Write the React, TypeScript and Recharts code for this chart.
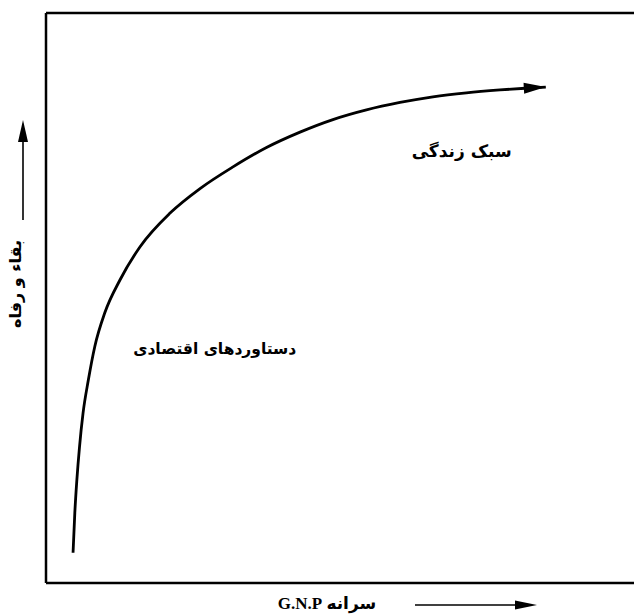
import { Line, LineChart, ReferenceDot, ReferenceLine, XAxis, YAxis } from 'recharts'

// curve (arbitrary 0-100 units on both axes)
const gnpPerCapita = [4.6, 4.9, 5.25, 5.7, 6.3, 7.2, 8.3, 10.0, 12.6, 16.0, 21.1, 26.2, 31.8, 37.5, 43.2, 48.8, 54.5, 60.2, 65.8, 71.5, 77.2, 81.5, 85.0]
const welfare = [5.3, 12.3, 18.1, 23.9, 29.8, 35.6, 41.5, 47.4, 53.2, 59.0, 64.9, 69.2, 73.0, 76.4, 79.1, 81.3, 83.0, 84.3, 85.3, 86.0, 86.5, 86.8, 87.0]

const regionLabels = ['سبک زندگی', 'دستاوردهای اقتصادی']
const regionLabelX = [70.7, 28.7]
const regionLabelY = [75.8, 41.2]
const regionLabelSize = [17, 15.5]

const xTitle = 'سرانه G.N.P'
const yTitle = 'بقاء و رفاه'

const data = gnpPerCapita.map((g, i) => ({ gnp: g, welfare: welfare[i] }))

const INK = '#000'
const ARABIC = "'DejaVu Sans', sans-serif"

const arrowHead = (tx: number, ty: number, angle: number, len: number, half: number) => {
  const bx = tx - len * Math.cos(angle)
  const by = ty - len * Math.sin(angle)
  const px = -Math.sin(angle) * half
  const py = Math.cos(angle) * half
  return `${tx},${ty} ${bx + px},${by + py} ${bx - px},${by - py}`
}

const CurveTip = (props: any) => {
  const { cx, cy, index, points } = props
  if (index !== data.length - 1) return <g key={`d${index}`} />
  let angle = -0.06
  if (points && points[index - 1]) {
    const prev = points[index - 1]
    angle = Math.atan2(cy - prev.y, cx - prev.x)
  }
  return <polygon key="tip" points={arrowHead(cx, cy, angle, 22, 5.5)} fill={INK} />
}

const YTitle = (props: any) => {
  const { x, y } = props.viewBox
  const ax = x + 23
  return (
    <g>
      <text
        x={x + 15}
        y={y + 271}
        transform={`rotate(-90 ${x + 15} ${y + 271})`}
        textAnchor="middle"
        dominantBaseline="central"
        fontFamily={ARABIC}
        fontWeight="bold"
        fontSize={16}
        fill={INK}
      >
        {yTitle}
      </text>
      <line x1={ax} y1={y + 207} x2={ax} y2={y + 125} stroke={INK} strokeWidth={1.6} />
      <polygon points={arrowHead(ax, y + 107, -Math.PI / 2, 22, 5)} fill={INK} />
    </g>
  )
}

const XTitle = (props: any) => {
  const { x, y } = props.viewBox
  const ay = y + 22
  return (
    <g>
      <text
        x={x + 281}
        y={y + 20}
        textAnchor="middle"
        dominantBaseline="central"
        direction="rtl"
        fontFamily="'Liberation Serif', 'DejaVu Sans', serif"
        fontWeight="bold"
        fontSize={17}
        fill={INK}
      >
        {xTitle}
      </text>
      <line x1={x + 369} y1={ay} x2={x + 475} y2={ay} stroke={INK} strokeWidth={1.6} />
      <polygon points={arrowHead(x + 491, ay, 0, 22, 4.5)} fill={INK} />
    </g>
  )
}

export default function App() {
  return (
    <div style={{ width: 635, height: 615, background: '#fff' }}>
      <style>{'body{margin:0}'}</style>
      <LineChart width={635} height={615} data={data} margin={{ top: 13, right: 1, bottom: 2, left: 0 }}>
        <XAxis
          type="number"
          dataKey="gnp"
          domain={[0, 100]}
          allowDataOverflow
          height={30}
          tick={false}
          tickLine={false}
          axisLine={{ stroke: INK, strokeWidth: 2.5 }}
          label={<XTitle />}
        />
        <YAxis
          type="number"
          domain={[0, 100]}
          allowDataOverflow
          width={46}
          tick={false}
          tickLine={false}
          axisLine={{ stroke: INK, strokeWidth: 2.5 }}
          label={<YTitle />}
        />
        <ReferenceLine y={100} stroke={INK} strokeWidth={2.5} />
        {regionLabels.map((t, i) => (
          <ReferenceDot
            key={t}
            x={regionLabelX[i]}
            y={regionLabelY[i]}
            r={0}
            stroke="none"
            fill="none"
            label={{ value: t, position: 'center', fill: INK, fontSize: regionLabelSize[i], fontWeight: 'bold', fontFamily: ARABIC }}
          />
        ))}
        <Line
          type="monotone"
          dataKey="welfare"
          stroke={INK}
          strokeWidth={2.8}
          dot={CurveTip}
          activeDot={false}
          isAnimationActive={false}
        />
      </LineChart>
    </div>
  )
}
